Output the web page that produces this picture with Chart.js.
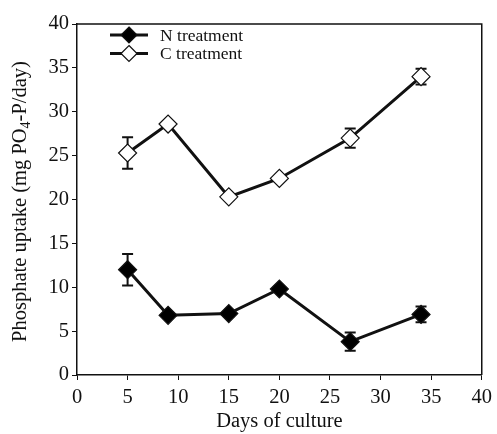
<!DOCTYPE html>
<html lang="en">
<head>
<meta charset="UTF-8">
<title>Phosphate uptake</title>
<script src="https://cdn.jsdelivr.net/npm/chart.js"></script>
<style>
    body { margin: 0; background: #fff; }
    .chart-container { width: 497px; height: 434px; }
</style>
</head>
<body>
<div class="chart-container">
    <canvas id="myChart" width="497" height="434"></canvas>
</div>
<script>
// values
const days = [5, 9, 15, 20, 27, 34];
const nValues = [12.0, 6.8, 7.0, 9.8, 3.8, 6.9];
const nErrors = [1.8, 0.3, 0.3, 0.3, 1.05, 0.9];
const cValues = [25.3, 28.6, 20.3, 22.4, 27.0, 34.0];
const cErrors = [1.8, 0.3, 0.3, 0.3, 1.1, 0.9];
const xTicks = [0, 5, 10, 15, 20, 25, 30, 35, 40];
const yTicks = [0, 5, 10, 15, 20, 25, 30, 35, 40];

const FONT = '"Liberation Serif", "Times New Roman", serif';
const INK = '#111';

function points(vals) {
    return days.map((d, i) => ({ x: d, y: vals[i] }));
}

// error bars, frame, legend and y title with subscript
const extras = {
    id: 'extras',
    beforeDatasetsDraw(chart) {
        const ctx = chart.ctx;
        const xs = chart.scales.x, ys = chart.scales.y;
        const errs = [nErrors, cErrors];
        ctx.save();
        ctx.strokeStyle = INK;
        ctx.lineWidth = 2;
        chart.data.datasets.forEach((ds, k) => {
            ds.data.forEach((p, i) => {
                const e = errs[k][i];
                const px = xs.getPixelForValue(p.x);
                const top = ys.getPixelForValue(p.y + e);
                const bot = ys.getPixelForValue(p.y - e);
                ctx.beginPath();
                ctx.moveTo(px, top); ctx.lineTo(px, bot);
                ctx.moveTo(px - 5.5, top); ctx.lineTo(px + 5.5, top);
                ctx.moveTo(px - 5.5, bot); ctx.lineTo(px + 5.5, bot);
                ctx.stroke();
            });
        });
        ctx.restore();
    },
    afterDraw(chart) {
        const ctx = chart.ctx;
        const a = chart.chartArea;
        ctx.save();
        // frame
        ctx.strokeStyle = INK;
        ctx.lineWidth = 1.5;
        ctx.beginPath();
        ctx.moveTo(a.left, a.top); ctx.lineTo(a.right, a.top); ctx.lineTo(a.right, a.bottom);
        ctx.stroke();

        // legend inside plot
        chart.data.datasets.forEach((ds, k) => {
            const y = 35 + k * 18.5;
            ctx.strokeStyle = INK;
            ctx.lineWidth = 3;
            ctx.beginPath();
            ctx.moveTo(110, y); ctx.lineTo(148, y);
            ctx.stroke();
            ctx.beginPath();
            ctx.moveTo(129, y - 8); ctx.lineTo(137, y); ctx.lineTo(129, y + 8); ctx.lineTo(121, y);
            ctx.closePath();
            ctx.fillStyle = ds.pointBackgroundColor;
            ctx.fill();
            ctx.lineWidth = 1.2;
            ctx.stroke();
            ctx.fillStyle = INK;
            ctx.font = '17.5px ' + FONT;
            ctx.textAlign = 'left';
            ctx.textBaseline = 'middle';
            ctx.fillText(ds.label, 160, y + 1);
        });

        // y title
        ctx.translate(21, (a.top + a.bottom) / 2 + 2);
        ctx.rotate(-Math.PI / 2);
        const parts = [
            ['Phosphate uptake (mg PO', 20.5, 0],
            ['4', 14, 5],
            ['-P/day)', 20.5, 0]
        ];
        let total = 0;
        parts.forEach(p => { ctx.font = p[1] + 'px ' + FONT; total += ctx.measureText(p[0]).width; });
        let x = -total / 2;
        ctx.fillStyle = INK;
        ctx.textAlign = 'left';
        ctx.textBaseline = 'middle';
        parts.forEach(p => {
            ctx.font = p[1] + 'px ' + FONT;
            ctx.fillText(p[0], x, p[2]);
            x += ctx.measureText(p[0]).width;
        });
        ctx.restore();
    }
};

const ctx = document.getElementById('myChart').getContext('2d');
new Chart(ctx, {
    type: 'line',
    data: {
        datasets: [{
            label: 'N treatment',
            data: points(nValues),
            borderColor: INK,
            borderWidth: 3,
            pointStyle: 'rectRot',
            pointRadius: 9,
            pointBackgroundColor: '#000',
            pointBorderColor: INK,
            pointBorderWidth: 1.2,
            tension: 0
        }, {
            label: 'C treatment',
            data: points(cValues),
            borderColor: INK,
            borderWidth: 3,
            pointStyle: 'rectRot',
            pointRadius: 9,
            pointBackgroundColor: '#fff',
            pointBorderColor: INK,
            pointBorderWidth: 1.2,
            tension: 0
        }]
    },
    options: {
        responsive: false,
        animation: false,
        events: [],
        layout: { padding: { top: 24, right: 15, left: 0, bottom: 0 } },
        plugins: {
            legend: { display: false },
            tooltip: { enabled: false }
        },
        scales: {
            x: {
                type: 'linear',
                min: 0, max: 40,
                afterBuildTicks: s => { s.ticks = xTicks.map(v => ({ value: v })); },
                afterFit: s => { s.height = 59; },
                border: { color: INK, width: 1.5 },
                grid: { drawOnChartArea: false, color: INK, tickLength: 5, lineWidth: 1 },
                ticks: { color: INK, font: { family: FONT, size: 20.5 }, padding: 5, maxRotation: 0 },
                title: { display: true, text: 'Days of culture', color: INK, font: { family: FONT, size: 20.5 }, padding: { top: 0, bottom: 0 } }
            },
            y: {
                min: 0, max: 40,
                afterBuildTicks: s => { s.ticks = yTicks.map(v => ({ value: v })); },
                afterFit: s => { s.width = 77; },
                border: { color: INK, width: 1.5 },
                grid: { drawOnChartArea: false, color: INK, tickLength: 5, lineWidth: 1 },
                ticks: { color: INK, font: { family: FONT, size: 20.5 }, padding: 3 }
            }
        }
    },
    plugins: [extras]
});
</script>
</body>
</html>
